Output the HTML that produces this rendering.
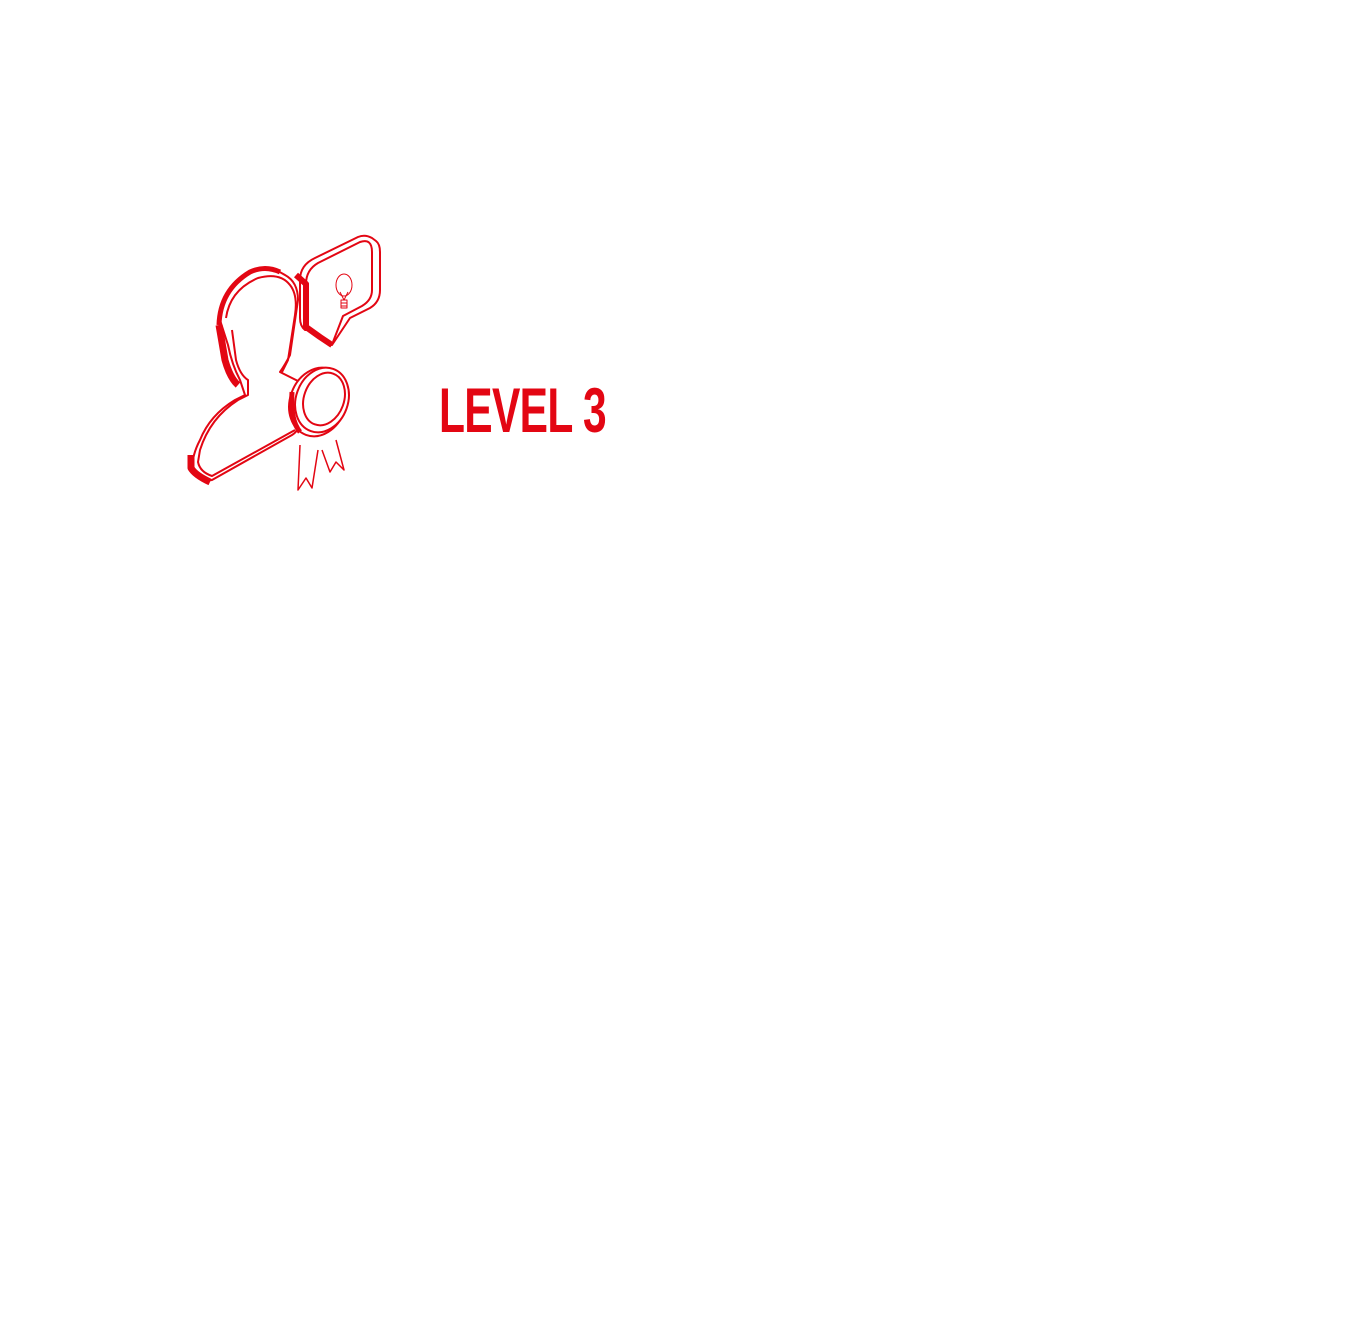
<!DOCTYPE html>
<html><head><meta charset="utf-8"><style>
body{margin:0;background:#fff;width:1345px;height:1321px;overflow:hidden;position:relative}
#t{position:absolute;left:439px;top:376px;font-family:"Liberation Sans",sans-serif;font-weight:bold;font-size:63px;color:#e30613;transform:scaleX(0.675);transform-origin:0 0;white-space:nowrap;line-height:70px;letter-spacing:-1px}
</style></head><body>
<svg width="1345" height="1321" style="position:absolute;left:0;top:0" fill="none" stroke="#e30613" stroke-width="2" stroke-linejoin="round">
<g>
<path d="M300 280 Q300 265 315 258 L358 237 Q365 234 372 238 L376 241 Q380 244 380 252 L380 290 Q380 302 370 308 L350 318 L332 345 L320 338 L312 330 L305 330 Q300 326 300 318 Z" fill="#fff"/>
<path d="M306 284 Q306 270 318 263 L360 242 Q372 238 372 252 L372 290 Q372 300 362 306 L343 316 L333 342" />
<path d="M296 275 L306 284 L306 327 L320 337 L332 345" stroke-width="6"/>
<ellipse cx="344" cy="285" rx="8" ry="11" stroke-width="1"/>
<path d="M340 292 L344 300 L348 292 M341 300 L347 300 L347 308 L341 308 Z M341 303 L347 303 M341 306 L347 306" stroke-width="1"/>
</g>
<g>
<path d="M220 320 Q225 285 255 270 Q270 265 285 275 Q298 282 298 300 L290 355 Q285 365 280 372 L300 382 L300 420 Q300 430 292 435 L212 480 Q200 482 192 470 Q192 455 200 440 Q210 415 235 400 L245 395 L240 380 Q232 365 228 345 Z" fill="#fff"/>
<path d="M219 325 Q220 290 250 272 Q265 265 280 272" stroke-width="5"/>
<path d="M219 325 L225 360 Q230 378 238 385" stroke-width="7"/>
<path d="M191 455 L191 468 Q195 475 210 482" stroke-width="7"/>
<path d="M226 318 Q230 290 258 278 Q280 272 290 285 Q298 295 295 315 L288 360 L282 372 M232 330 L236 360 Q240 375 248 380 L248 395 L238 400 Q210 418 200 450 L198 462 Q200 472 212 476 L295 430"/>
</g>
<g>
<path d="M300 445 L298 490 L306 478 L312 488 L318 450 M322 450 L330 472 L336 462 L344 470 L336 440" stroke-width="1.5" fill="#fff"/>
<ellipse cx="318" cy="402" rx="28" ry="35" transform="rotate(20 318 402)" fill="#fff"/>
<ellipse cx="322" cy="400" rx="26" ry="33" transform="rotate(20 322 400)" fill="#fff"/>
<ellipse cx="324" cy="399" rx="20" ry="27" transform="rotate(20 324 399)"/>
<path d="M292 392 Q290 420 300 432" stroke-width="5"/>
</g>
</svg>
<div id="t">LEVEL 3</div>
</body></html>
